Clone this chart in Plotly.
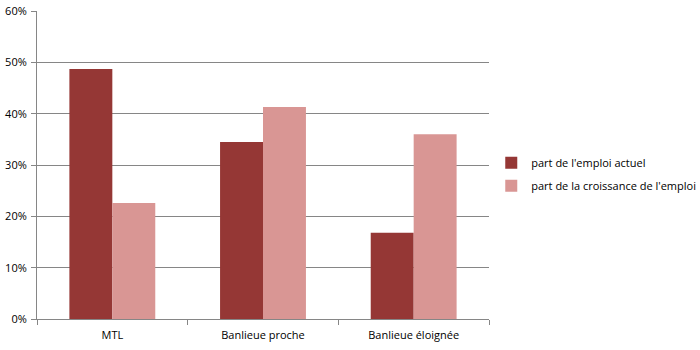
import plotly.graph_objects as go

categories = ["MTL", "Banlieue proche", "Banlieue éloignée"]
emploi_actuel = [0.487, 0.345, 0.168]
croissance_emploi = [0.226, 0.413, 0.360]
series_names = ["part de l'emploi actuel", "part de la croissance de l'emploi"]
y_ticks = [0, 0.1, 0.2, 0.3, 0.4, 0.5, 0.6]

fig = go.Figure()
fig.add_trace(go.Bar(x=categories, y=emploi_actuel, name=series_names[0],
                     legendgroup="a",
                     marker=dict(color="#953735", line=dict(width=0))))
fig.add_trace(go.Bar(x=categories, y=croissance_emploi, name=series_names[1],
                     legendgroup="b",
                     marker=dict(color="#D99694", line=dict(width=0))))

font_family = "Open Sans, Liberation Sans, sans-serif"
fig.update_layout(
    width=700, height=350,
    margin=dict(l=37, r=211, t=11, b=31, autoexpand=False),
    paper_bgcolor="white", plot_bgcolor="white",
    barmode="group", bargap=0.43, bargroupgap=0,
    font=dict(family=font_family, size=11, color="#000000"),
    legend=dict(x=1.005, y=0.47, xanchor="left", yanchor="middle",
                font=dict(size=11), traceorder="grouped", tracegroupgap=4,
                itemwidth=30, bgcolor="rgba(0,0,0,0)"),
    showlegend=True,
)
fig.update_xaxes(
    showline=True, linecolor="#868686", linewidth=1, automargin=False,
    ticks="outside", tickson="boundaries", ticklen=5, tickcolor="#868686",
    showgrid=False, tickfont=dict(size=11), ticklabelstandoff=6,
)
fig.update_yaxes(
    range=[0, 0.6], tickvals=y_ticks, tickformat=".0%", automargin=False,
    showline=True, linecolor="#868686", linewidth=1,
    ticks="outside", ticklen=5, tickcolor="#868686",
    showgrid=True, gridcolor="#868686", gridwidth=1,
    zeroline=False, tickfont=dict(size=11), ticklabelstandoff=2,
)

fig.write_html("out.html")
